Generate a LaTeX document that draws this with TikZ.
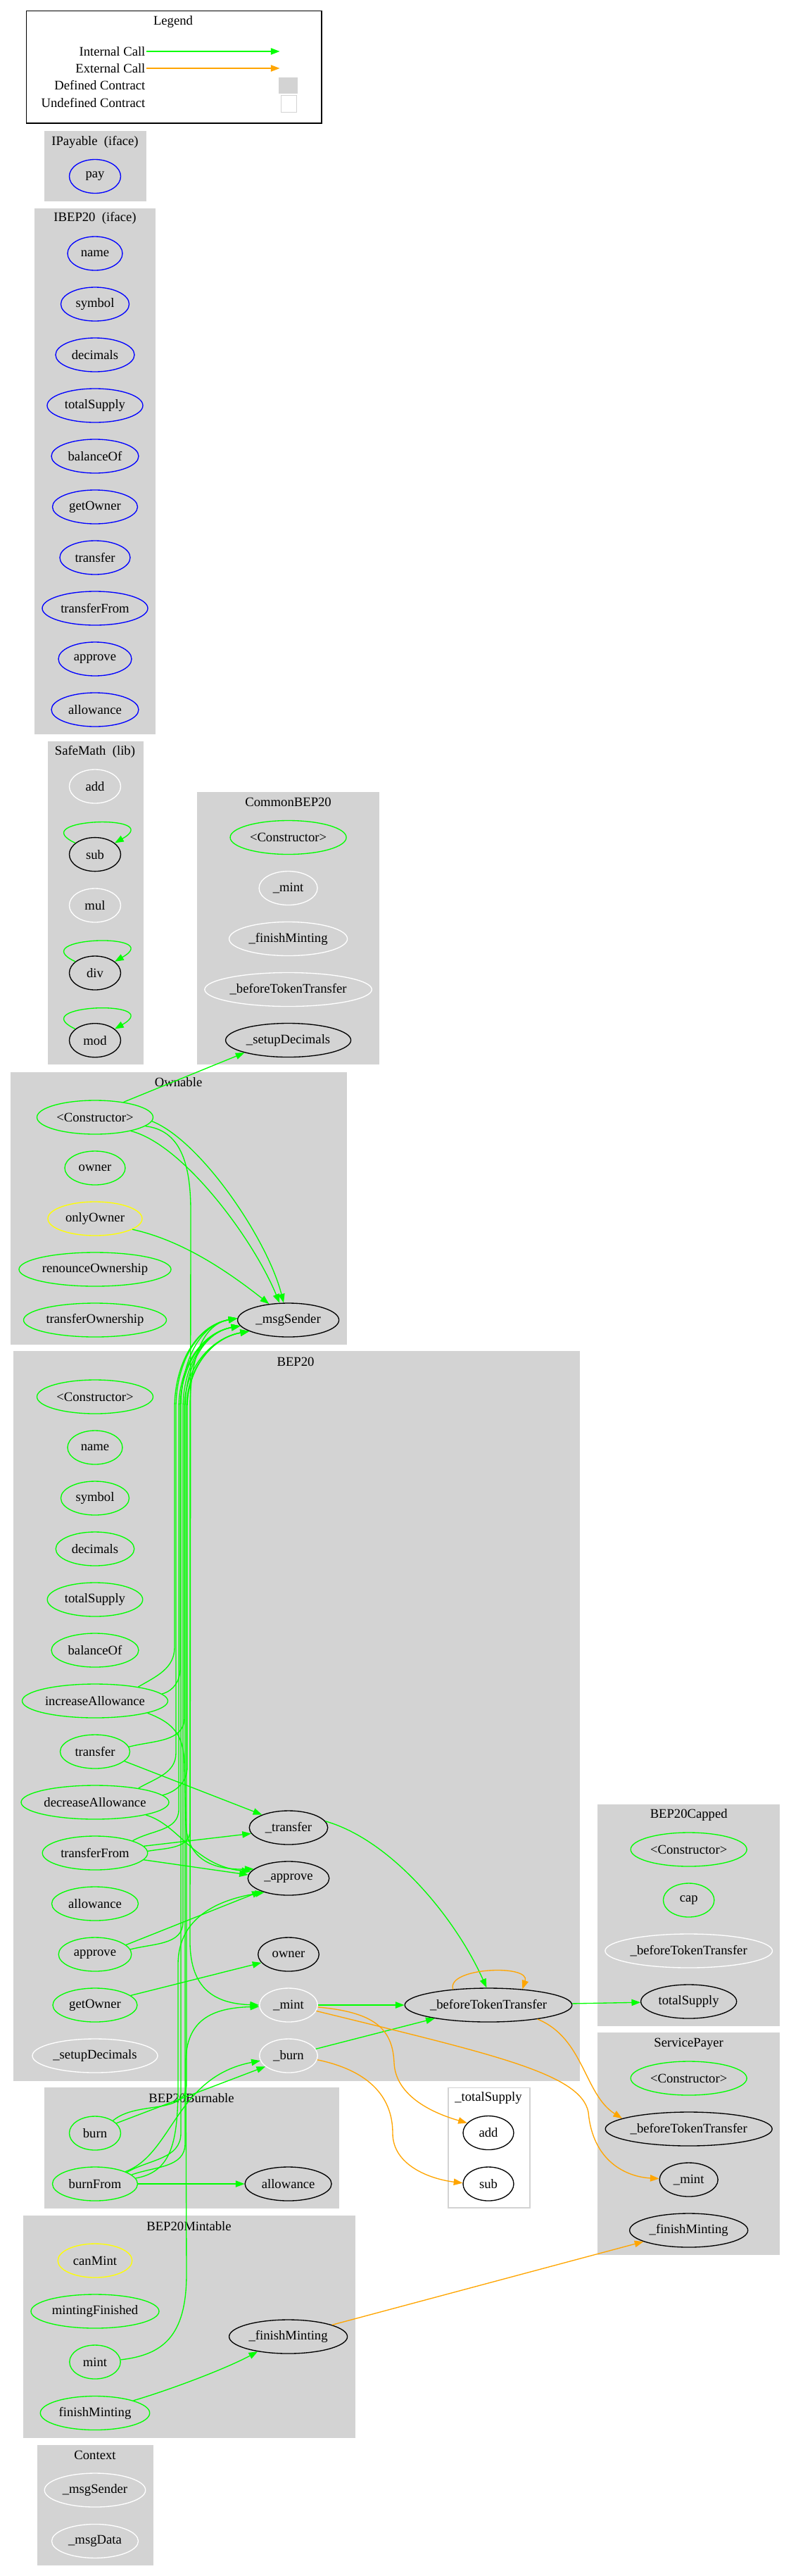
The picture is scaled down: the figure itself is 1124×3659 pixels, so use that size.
\documentclass[tikz,border=0pt]{standalone}
\usepackage{fontspec}
\setmainfont{Liberation Serif}
\usetikzlibrary{arrows.meta,shapes.geometric,positioning}
\definecolor{gvgreen}{HTML}{00FF00}
\definecolor{gvorange}{HTML}{FFA500}
\definecolor{gvblue}{HTML}{0000FF}
\definecolor{gvyellow}{HTML}{FFFF00}
\definecolor{gvgray}{HTML}{D3D3D3}
\tikzstyle{fn}=[ellipse,draw,line width=1pt,inner sep=0pt,minimum height=36pt,minimum width=54pt]
\tikzstyle{pubfn}=[fn,draw=gvgreen]
\tikzstyle{modfn}=[fn,draw=gvyellow]
\tikzstyle{ifacefn}=[fn,draw=gvblue]
\tikzstyle{extfn}=[fn,draw=black]
\tikzstyle{undeffn}=[fn,draw=white]
\tikzstyle{icall}=[-{Triangle[length=9.5pt,width=7pt]},draw=gvgreen,line width=1pt]
\tikzstyle{ecall}=[-{Triangle[length=9.5pt,width=7pt]},draw=gvorange,line width=1pt]
\tikzset{wd/.style={minimum width=#1*0.75pt}}

\begin{document}
\begin{tikzpicture}[x=0.75pt,y=-0.75pt,font=\fontsize{14}{16}\selectfont]
\useasboundingbox (0,0) rectangle (1124,3659);

% legend
\draw[line width=1pt] (37.5,15.4) rectangle (457,175);
\node (legend) at (246,31) {Legend};
\node[anchor=east,inner sep=1pt] (lint) at (208,73) {Internal Call};
\node[anchor=east,inner sep=1pt] (lext) at (208,97) {External Call};
\node[anchor=east,inner sep=1pt] (ldef) at (208,121) {Defined Contract};
\node[anchor=east,inner sep=1pt] (lund) at (208,146) {Undefined Contract};
\coordinate (lintend) at (397.5,73);
\coordinate (lextend) at (397.5,97);
\node[fill=gvgray,inner sep=0pt,minimum width=20pt,minimum height=17pt] (ldefbox) at (409.5,121.5) {};
\node[draw=gvgray,fill=white,inner sep=0pt,minimum width=16.5pt,minimum height=18pt] (lundbox) at (410,147) {};
\draw[icall] (lint) -- (lintend);
\draw[ecall] (lext) -- (lextend);

% clusters
\fill[gvgray] (62.5,186) rectangle (207.5,286);
\fill[gvgray] (49,296) rectangle (221,1043);
\fill[gvgray] (68,1053) rectangle (203.6,1512);
\fill[gvgray] (280,1125) rectangle (539,1512);
\fill[gvgray] (15.4,1522.5) rectangle (493,1910);
\fill[gvgray] (18.6,1919.4) rectangle (824,2955.5);
\fill[gvgray] (849.4,2562.7) rectangle (1108.4,2877.8);
\fill[gvgray] (849.4,2887.4) rectangle (1108.4,3203.3);
\filldraw[fill=white,draw=gvgray,line width=1pt] (637,2965.4) rectangle (753,3136);
\fill[gvgray] (63,2965.4) rectangle (482.4,3137);
\fill[gvgray] (32.8,3146.8) rectangle (504.5,3462.7);
\fill[gvgray] (52.6,3472.6) rectangle (217.5,3644.2);

\node (tipay) at (135,202) {IPayable\ \ (iface)};
\node (tibep) at (135,310) {IBEP20\ \ (iface)};
\node (tsafe) at (135,1068) {SafeMath\ \ (lib)};
\node (tcommon) at (409.6,1139.6) {CommonBEP20};
\node (town) at (253.6,1537) {Ownable};
\node (tbep) at (420,1934.8) {BEP20};
\node (tcap) at (978.7,2578) {BEP20Capped};
\node (tpayer) at (978.7,2903) {ServicePayer};
\node (tsupply) at (694,2980.5) {\_totalSupply};
\node (tburn) at (272,2979.6) {BEP20Burnable};
\node (tmint) at (268.5,3162) {BEP20Mintable};
\node (tctx) at (135,3487.6) {Context};

% IPayable, IBEP20
\node[ifacefn,wd=73] (pay) at (135,250.5) {pay};
\foreach \n/\w [count=\i from 0] in {name/78,symbol/97,decimals/112,totalSupply/136,balanceOf/124,getOwner/121,transfer/100,transferFrom/150,approve/104,allowance/124}
  \node[ifacefn,wd=\w] (i\n) at (135,{360+72*\i}) {\n};

% SafeMath
\node[undeffn,wd=73] (smadd) at (135,1117) {add};
\node[extfn,wd=73] (smsub) at (135,1213.6) {sub};
\node[undeffn,wd=73] (smmul) at (135,1286) {mul};
\node[extfn,wd=73] (smdiv) at (135,1382) {div};
\node[extfn,wd=73] (smmod) at (135,1477.7) {mod};

% CommonBEP20
\node[pubfn,wd=165] (cbctor) at (409.6,1189.5) {<Constructor>};
\node[undeffn,wd=83] (cbmint) at (409.6,1261.5) {\_mint};
\node[undeffn,wd=168] (cbfin) at (409.6,1333.5) {\_finishMinting};
\node[undeffn,wd=237.5] (cbbtt) at (409.6,1405.5) {\_beforeTokenTransfer};
\node[extfn,wd=178] (cbsetup) at (409.6,1477.5) {\_setupDecimals};

% Ownable
\node[pubfn,wd=165] (owctor) at (135,1587) {<Constructor>};
\node[pubfn,wd=86] (owowner) at (135,1659) {owner};
\node[modfn,wd=134] (owonly) at (135,1731) {onlyOwner};
\node[pubfn,wd=216] (owren) at (135,1803) {renounceOwnership};
\node[pubfn,wd=203] (owtrans) at (135,1875) {transferOwnership};
\node[extfn,wd=144] (ms) at (409.6,1875) {\_msgSender};

% BEP20
\node[pubfn,wd=165] (bctor) at (135,1984) {<Constructor>};
\node[pubfn,wd=78] (bname) at (135,2056) {name};
\node[pubfn,wd=97] (bsym) at (135,2128) {symbol};
\node[pubfn,wd=111.5] (bdec) at (135,2200) {decimals};
\node[pubfn,wd=135.6] (btot) at (135,2272) {totalSupply};
\node[pubfn,wd=124] (bbal) at (135,2344) {balanceOf};
\node[pubfn,wd=207] (bia) at (135,2416) {increaseAllowance};
\node[pubfn,wd=99] (btr) at (135,2488) {transfer};
\node[pubfn,wd=210] (bda) at (135,2560) {decreaseAllowance};
\node[pubfn,wd=149.5] (btf) at (135,2632) {transferFrom};
\node[pubfn,wd=123] (ball) at (135,2704) {allowance};
\node[pubfn,wd=103.6] (bap) at (135,2776) {approve};
\node[pubfn,wd=120] (bgo) at (135,2848) {getOwner};
\node[undeffn,wd=178] (bsetup) at (135,2920) {\_setupDecimals};
\node[extfn,wd=111.5] (btrans) at (410,2596) {\_transfer};
\node[extfn,wd=115.5] (bappr) at (410,2668) {\_approve};
\node[extfn,wd=86.6] (bowner) at (410,2776) {owner};
\node[undeffn,wd=82.6] (bmint) at (410,2848) {\_mint};
\node[undeffn,wd=82.6] (bburn) at (410,2920) {\_burn};
\node[extfn,wd=237.6] (bbtt) at (694,2848) {\_beforeTokenTransfer};

% BEP20Capped
\node[pubfn,wd=165] (cpctor) at (978.7,2627) {<Constructor>};
\node[pubfn,wd=72.4] (cpcap) at (978.7,2699) {cap};
\node[undeffn,wd=237.6] (cpbtt) at (978.7,2771) {\_beforeTokenTransfer};
\node[extfn,wd=136] (cptot) at (978.7,2843) {totalSupply};

% ServicePayer
\node[pubfn,wd=165] (spctor) at (978.7,2952) {<Constructor>};
\node[extfn,wd=237] (spbtt) at (978.7,3024) {\_beforeTokenTransfer};
\node[extfn,wd=83] (spmint) at (978.7,3096) {\_mint};
\node[extfn,wd=168] (spfin) at (978.7,3168) {\_finishMinting};

% _totalSupply
\node[extfn,wd=72] (tsadd) at (694,3029.5) {add};
\node[extfn,wd=72] (tssub) at (694,3102) {sub};

% BEP20Burnable
\node[pubfn,wd=73] (bnburn) at (135,3030) {burn};
\node[pubfn,wd=121] (bnfrom) at (135,3102) {burnFrom};
\node[extfn,wd=123] (bnall) at (409.6,3102) {allowance};

% BEP20Mintable
\node[modfn,wd=105.6] (mncan) at (135,3211) {canMint};
\node[pubfn,wd=182] (mnmf) at (135,3283) {mintingFinished};
\node[pubfn,wd=72.4] (mnmint) at (135,3355) {mint};
\node[pubfn,wd=155.4] (mnfm) at (135,3427.5) {finishMinting};
\node[extfn,wd=168] (mnpfm) at (409.6,3319) {\_finishMinting};

% Context
\node[undeffn,wd=143.5] (cxms) at (135,3537) {\_msgSender};
\node[undeffn,wd=123] (cxmd) at (135,3609.4) {\_msgData};

% internal calls
\foreach \n in {smsub,smdiv,smmod}
  \draw[icall] (\n.150) .. controls +(-74,-35) and +(74,-42) .. (\n.30);
\draw[icall] (owctor.28) -- (cbsetup.196);
\draw[icall] (owctor.-21) .. controls (260,1625) and (360,1760) .. (ms.117);
\draw[icall] (owctor.-4) .. controls (285,1620) and (380,1760) .. (ms.105);
\draw[icall] (owctor.-10) .. controls (255,1605) and (271,1650) .. (271,1720) -- (270,2760) .. controls (271,2825) and (305,2846) .. (bmint.180);
\draw[icall] (owonly.-16) .. controls (250,1760) and (310,1795) .. (ms.140);
\foreach \s/\o/\x/\y/\t in {bia.18/30/248/2340/178,bia.6/15/256/2370/187,btr.8/15/262/2440/196,bda.18/30/250/2490/178,bda.6/15/266/2510/196,btf.18/30/254/2570/187,btf.2/10/270/2600/178,bap.8/15/260/2730/187,bnburn.35/40/265/2960/196,bnfrom.20/30/257/3030/178,bnfrom.14/20/263/3045/187}
  \draw[icall] (\s) to[out=\o,in=-90] (\x,\y) -- (\x,2000) to[out=90,in=190] (ms.\t);
\draw[icall] (bia.-13) .. controls (248,2448) and (262,2465) .. (262,2510) -- (264,2590) .. controls (266,2640) and (300,2656) .. (bappr.165);
\draw[icall] (bda.-14) .. controls (255,2592) and (275,2650) .. (bappr.170);
\draw[icall] (btf.-8) -- (bappr.175);
\draw[icall] (bap.17) -- (bappr.205);
\draw[icall] (bnfrom.8) .. controls (245,3085) and (253,3040) .. (253,2960) -- (253,2790) .. controls (253,2730) and (300,2700) .. (bappr.210);
\draw[icall] (btr.-18) -- (btrans.154);
\draw[icall] (btf.8) -- (btrans.189);
\draw[icall] (bgo.15) -- (bowner.197);
\draw[icall] (mnmint.5) .. controls (230,3345) and (265,3320) .. (265,3230) -- (264,2930) .. controls (264,2870) and (300,2852) .. (bmint.183);
\draw[icall] (bnburn.25) -- (bburn.205);
\draw[icall] (bnfrom.22) .. controls (245,3060) and (250,2950) .. (bburn.190);
\draw[icall] (bnfrom) -- (bnall);
\draw[icall] (bmint) -- (bbtt);
\draw[icall] (bburn.14) -- (bbtt.194);
\draw[icall] (btrans.10) .. controls (560,2615) and (650,2730) .. (bbtt.96);
\draw[icall] (bbtt) -- (cptot);
\draw[icall] (mnfm.18) .. controls (240,3395) and (320,3365) .. (mnpfm.206);

% external calls
\draw[ecall] (bbtt.156) .. controls +(-10,-31) and +(12,-36) .. (bbtt.25);
\draw[ecall] (bbtt.-16) .. controls (830,2895) and (830,2975) .. (spbtt.171);
\draw[ecall] (bmint.-4) .. controls (530,2858) and (558,2880) .. (560,2930) .. controls (562,2975) and (610,3000) .. (tsadd.155);
\draw[ecall] (bmint.-12) .. controls (700,2918) and (825,2945) .. (836,3000) .. controls (842,3070) and (890,3092) .. (spmint.178);
\draw[ecall] (bburn.-8) .. controls (520,2940) and (558,2975) .. (558,3030) .. controls (558,3075) and (610,3095) .. (tssub.178);
\draw[ecall] (mnpfm.15) -- (spfin.194);
\end{tikzpicture}
\end{document}
